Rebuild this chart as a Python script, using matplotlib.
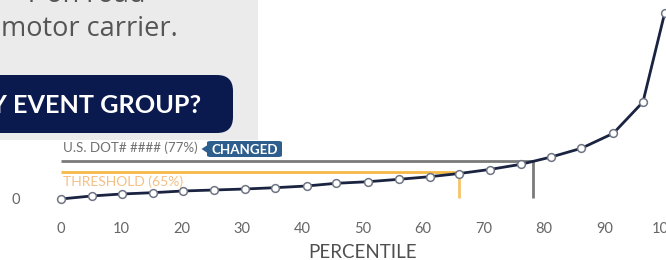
import matplotlib
matplotlib.use("Agg")
import matplotlib.pyplot as plt
from matplotlib.patches import FancyBboxPatch, Polygon, Rectangle

# ---------------- data ----------------
percentile = [0, 5.1, 10.1, 15.2, 20.2, 25.4, 30.5, 35.5, 40.7, 45.6, 50.9,
              56.0, 61.1, 66.0, 71.0, 76.2, 81.2, 86.2, 91.5, 96.4, 100]
score = [0, 3, 5, 6.3, 8, 9, 10, 11.3, 13, 15.7, 17.3,
         19.7, 22.3, 25.5, 29.5, 34.7, 42, 50.7, 65.7, 97, 186]
x_ticks = [0, 10, 20, 30, 40, 50, 60, 70, 80, 90, 100]
y_ticks = [0]
threshold_x, threshold_y = 66.0, 26.7
carrier_x, carrier_y = 78.2, 38.0
threshold_label = "THRESHOLD (65%)"
carrier_label = "U.S. DOT# #### (77%)"
badge_label = "CHANGED"
x_label = "PERCENTILE"
panel_lines = ["r on road", "motor carrier."]
button_label = "BY EVENT GROUP?"

# ---------------- figure ----------------
W, H = 666, 260
fig = plt.figure(figsize=(W / 100, H / 100), dpi=100)
fig.patch.set_facecolor("white")


def fx(x):
    return x / W


def fy(y):
    return 1 - y / H


FONT = "Lato"

ax = fig.add_axes([fx(60.7), fy(215), (664.7 - 60.7) / W, 215 / H])
ax.set_zorder(1)
ax.set_xlim(0, 100)
ax.set_ylim(-16, 199)
for s in ax.spines.values():
    s.set_visible(False)

# reference lines
ax.plot([0, carrier_x], [carrier_y, carrier_y], color="#7a7a7a", lw=2.0,
        solid_capstyle="butt", zorder=2)
ax.plot([carrier_x, carrier_x], [carrier_y, 1], color="#7a7a7a", lw=2.0,
        solid_capstyle="butt", zorder=2)
ax.plot([0, threshold_x], [threshold_y, threshold_y], color="#f6b948", lw=2.0,
        solid_capstyle="butt", zorder=2)
ax.plot([threshold_x, threshold_x], [threshold_y, 1], color="#f6c46a", lw=2.0,
        solid_capstyle="butt", zorder=2)

# main curve
ax.plot(percentile, score, color="#1a2340", lw=2.0, zorder=3,
        marker="o", markersize=5.6, markerfacecolor="white",
        markeredgecolor="#6f7584", markeredgewidth=1.1, clip_on=False)

ax.text(0.3, 51.5, carrier_label, fontsize=9.6, color="#707070",
        va="center", ha="left", family=FONT, zorder=4)
ax.text(0.3, 17, threshold_label, fontsize=10, color="#f4c084",
        va="center", ha="left", family=FONT, zorder=4)

ax.set_xticks(x_ticks)
ax.set_xticklabels([str(v) for v in x_ticks], family=FONT, fontsize=10.5,
                   color="#666666")
ax.set_yticks(y_ticks)
ax.set_yticklabels([str(v) for v in y_ticks], family=FONT, fontsize=10.5,
                   color="#666666")
ax.tick_params(axis="x", length=0, pad=5)
ax.tick_params(axis="y", length=0, pad=29)
ax.set_xlabel(x_label, family=FONT, fontsize=13.5, color="#4f4f4f",
              labelpad=6)

# "CHANGED" badge (figure pixel coordinates)
badge = FancyBboxPatch((fx(207), fy(157)), fx(282) - fx(207), fy(141) - fy(157),
                       boxstyle="round,pad=0,rounding_size=0.006",
                       transform=fig.transFigure, facecolor="#2d5e8e",
                       edgecolor="none", zorder=6)
fig.add_artist(badge)
arrow = Polygon([(fx(201.5), fy(149)), (fx(207.5), fy(145)), (fx(207.5), fy(153))],
                closed=True, transform=fig.transFigure, facecolor="#2d5e8e",
                edgecolor="none", zorder=6)
fig.add_artist(arrow)
fig.text(fx(245), fy(149.5), badge_label, fontsize=9.6, color="white",
         fontweight="bold", ha="center", va="center", family=FONT, zorder=7)

# overlay panel (page content covering the chart's top-left)
pan = fig.add_axes([0, fy(140), 258 / W, 140 / H])
pan.set_zorder(10)
pan.set_xlim(0, 258)
pan.set_ylim(140, 0)
pan.axis("off")
pan.add_patch(Rectangle((0, 0), 258, 140, facecolor="#ebebeb",
                        edgecolor="none"))
pan.text(28, 1.5, panel_lines[0], fontsize=19.5, color="#555555",
         family="Open Sans", ha="left", va="baseline")
pan.text(1, 36, panel_lines[1], fontsize=19.5, color="#555555",
         family="Open Sans", ha="left", va="baseline")
btn = FancyBboxPatch((-40, 75), 273, 58,
                     boxstyle="round,pad=0,rounding_size=16",
                     facecolor="#0b1a4e", edgecolor="none", mutation_aspect=1)
pan.add_patch(btn)
pan.text(201, 113, button_label, fontsize=18.2, color="white",
         fontweight="bold", family=FONT, ha="right", va="baseline")

fig.savefig("out.png", dpi=100, facecolor="white")
